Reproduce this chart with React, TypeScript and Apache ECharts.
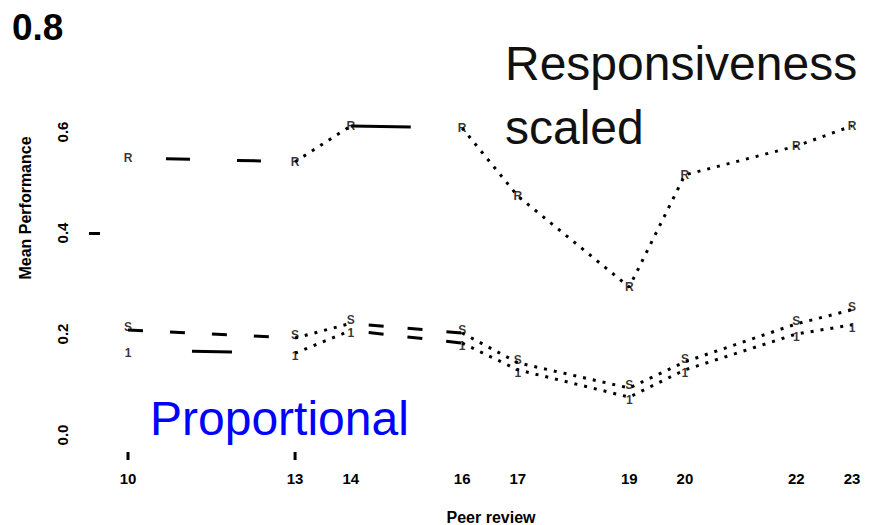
import React, { useEffect, useRef } from "react";
import * as echarts from "echarts";

const xValues = [10, 13, 14, 16, 17, 19, 20, 22, 23];
const responsiveness = [0.549, 0.541, 0.612, 0.608, 0.473, 0.293, 0.515, 0.572, 0.612];
const upperProp = [0.208, 0.192, 0.221, 0.202, 0.143, 0.093, 0.145, 0.220, 0.248];
const lowerProp = [0.168, 0.162, 0.207, 0.182, 0.129, 0.075, 0.129, 0.200, 0.218];
const xTickLabels = [10, 13, 14, 16, 17, 19, 20, 22, 23];
const xTickMarks = [10, 13];
const yTickLabels = [0, 0.2, 0.4, 0.6];
const yTickMarks = [0.4];

const groups = [
  { name: "R", values: responsiveness, marker: "R", labelOffset: 0, dashA: [24, 47], offA: 33, dashC: [60, 55], offC: 0 },
  { name: "S", values: upperProp, marker: "S", labelOffset: -3, dashA: [15, 27], offA: 0, dashC: [15, 24], offC: 21 },
  { name: "1", values: lowerProp, marker: "1", labelOffset: 3, dashA: [40, 126], offA: 102, dashC: [15, 24], offC: 21 },
];

const FONT = "'Liberation Sans', Arial, sans-serif";
const Y_MIN = -17 / 505;

export default function App() {
  const ref = useRef<HTMLDivElement>(null);
  useEffect(() => {
    if (!ref.current) return;
    const chart = echarts.init(ref.current, null, { renderer: "svg" });
    const series: any[] = [];
    groups.forEach((g) => {
      const segments = [
        { from: 0, to: 1, dash: g.dashA, off: g.offA },
        { from: 1, to: 2, dash: [3, 7], off: 0 },
        { from: 2, to: 3, dash: g.dashC, off: g.offC },
        { from: 3, to: 8, dash: [3, 7], off: 0 },
      ];
      segments.forEach((s) => {
        const data = [] as number[][];
        for (let i = s.from; i <= s.to; i++) data.push([xValues[i], g.values[i]]);
        series.push({
          type: "line",
          name: g.name,
          data,
          showSymbol: false,
          symbol: "none",
          lineStyle: { color: "#000", width: 3, type: s.dash, dashOffset: s.off, cap: "butt" },
          silent: true,
        });
      });
      series.push({
        type: "scatter",
        name: g.name + "-marker",
        data: xValues.map((x, i) => [x, g.values[i]]),
        symbol: "circle",
        symbolSize: 8,
        itemStyle: { color: "rgba(0,0,0,0)" },
        label: {
          show: true,
          position: "inside",
          offset: [0, g.labelOffset],
          formatter: g.marker,
          color: "#000",
          fontSize: 12,
          fontWeight: "bold",
          fontFamily: FONT,
        },
      });
    });
    const texts: any[] = [
      {
        type: "text",
        left: 12,
        top: 9,
        style: { text: "0.8", font: `bold 37px ${FONT}`, fill: "#000" },
      },
      {
        type: "text",
        x: 505,
        y: 63,
        style: { text: "Responsiveness", font: `48px ${FONT}`, fill: "#111", verticalAlign: "middle" },
      },
      {
        type: "text",
        x: 505,
        y: 127,
        style: { text: "scaled", font: `48px ${FONT}`, fill: "#111", verticalAlign: "middle" },
      },
      {
        type: "text",
        x: 150,
        y: 418,
        style: { text: "Proportional", font: `48px ${FONT}`, fill: "#0000FF", verticalAlign: "middle" },
      },
      {
        type: "text",
        x: 25,
        y: 208,
        rotation: Math.PI / 2,
        style: {
          text: "Mean Performance",
          font: `bold 16px ${FONT}`,
          fill: "#000",
          align: "center",
          verticalAlign: "middle",
        },
      },
      {
        type: "text",
        x: 491,
        y: 517,
        style: {
          text: "Peer review",
          font: `bold 16px ${FONT}`,
          fill: "#000",
          align: "center",
          verticalAlign: "middle",
        },
      },
    ];
    chart.setOption({
      animation: false,
      backgroundColor: "#fff",
      grid: { left: 128, right: 19, top: 81.5, bottom: 525 - 452 },
      xAxis: {
        type: "value",
        min: 10,
        max: 23,
        axisLine: { show: false },
        splitLine: { show: false },
        axisTick: { show: false },
        axisLabel: {
          customValues: xTickLabels,
          color: "#000",
          fontSize: 15,
          fontWeight: "bold",
          fontFamily: FONT,
          margin: 19,
        },
      },
      yAxis: {
        type: "value",
        min: Y_MIN,
        max: 0.7,
        offset: 28,
        axisLine: { show: false },
        splitLine: { show: false },
        axisTick: {
          show: true,
          length: 11,
          customValues: yTickMarks,
          lineStyle: { color: "#000", width: 3 },
        },
        axisLabel: {
          customValues: yTickLabels,
          formatter: (v: number) => v.toFixed(1),
          rotate: 90,
          color: "#000",
          fontSize: 15,
          fontWeight: "bold",
          fontFamily: FONT,
          margin: 30,
        },
      },
      graphic: texts,
      series,
    });
    const tickLines = xTickMarks.map((v) => {
      const p = chart.convertToPixel({ xAxisIndex: 0, yAxisIndex: 0 }, [v, Y_MIN]) as number[];
      return {
        type: "line",
        shape: { x1: p[0], y1: p[1], x2: p[0], y2: p[1] + 8 },
        style: { stroke: "#000", lineWidth: 3 },
      };
    });
    chart.setOption({ graphic: [...texts, ...tickLines] });
    return () => chart.dispose();
  }, []);
  return <div ref={ref} style={{ width: 871, height: 525, position: "absolute", left: 0, top: 0 }} />;
}
